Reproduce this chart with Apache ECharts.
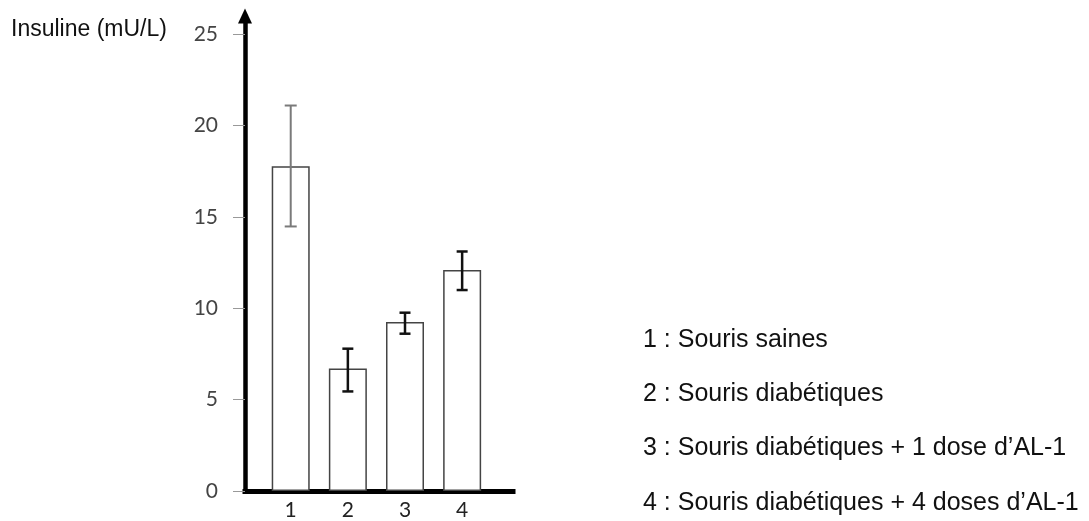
<!DOCTYPE html>
<html>
<head>
<meta charset="utf-8">
<script src="https://cdn.jsdelivr.net/npm/echarts@6/dist/echarts.min.js"></script>
<style>
html,body{margin:0;padding:0;background:#fff;}
#chart{width:1089px;height:521px;}
</style>
</head>
<body>
<div id="chart"></div>
<script>
// ---- data ----
var categories = ['1', '2', '3', '4'];
var means = [17.77, 6.71, 9.25, 12.1];
var errUpper = [21.1, 7.79, 9.76, 13.11];
var errLower = [14.48, 5.45, 8.61, 11.0];
var yTicks = [0, 5, 10, 15, 20, 25];
var yTitle = 'Insuline (mU/L)';
var legendLines = [
  '1 : Souris saines',
  '2 : Souris diabétiques',
  '3 : Souris diabétiques + 1 dose d\u2019AL-1',
  '4 : Souris diabétiques + 4 doses d\u2019AL-1'
];

// ---- build ----
var positions = categories.map(function (c, i) { return i + 1; });
var barData = positions.map(function (p, i) { return [p, means[i]]; });
var errData = positions.map(function (p, i) { return [p, errLower[i], errUpper[i], i]; });

var chart = echarts.init(document.getElementById('chart'), null, {renderer: 'canvas'});
chart.setOption({
  animation: false,
  backgroundColor: '#ffffff',
  title: [
    {
      text: yTitle, left: 11, top: 15, padding: 0,
      textStyle: {fontFamily: 'Liberation Sans', fontSize: 23, fontWeight: 'normal', color: '#111', lineHeight: 30}
    },
    {
      text: legendLines.join('\n'), left: 643, top: 313, padding: 0,
      textStyle: {fontFamily: 'Liberation Sans', fontSize: 25, fontWeight: 'normal', color: '#111', lineHeight: 54.2}
    }
  ],
  grid: {left: 245, top: 16, width: 268, bottom: 29.5, containLabel: false},
  xAxis: {
    type: 'value', min: 0.2, max: 4.89,
    splitLine: {show: false},
    axisLine: {show: true, onZero: false, lineStyle: {color: '#000', width: 5, cap: 'square'}},
    axisTick: {show: false},
    axisLabel: {
      customValues: positions,
      formatter: function (v) { return categories[Math.round(v) - 1] || ''; },
      fontFamily: 'Lato', fontSize: 21, color: '#222', margin: 9
    }
  },
  yAxis: {
    type: 'value', min: 0, max: 26,
    splitLine: {show: false},
    axisLine: {show: true, onZero: false, symbol: ['none', 'triangle'], symbolSize: [14, 15],
      lineStyle: {color: '#000', width: 4.5}},
    axisTick: {show: true, customValues: yTicks, length: 12, lineStyle: {color: '#999', width: 1}},
    axisLabel: {customValues: yTicks, fontFamily: 'Lato', fontSize: 21, color: '#444', margin: 27}
  },
  series: [
    {
      type: 'bar', data: barData, barWidth: 38,
      itemStyle: {color: '#fff', borderColor: '#444', borderWidth: 1.5},
      z: 1
    },
    {
      type: 'custom', data: errData, z: 3,
      renderItem: function (params, api) {
        var x = api.value(0);
        var lo = api.coord([x, api.value(1)]);
        var hi = api.coord([x, api.value(2)]);
        var first = api.value(3) === 0;
        var half = first ? 6 : 5.5;
        var style = {stroke: first ? '#7a7a7a' : '#111', lineWidth: first ? 2 : 2.5};
        return {
          type: 'group',
          children: [
            {type: 'line', shape: {x1: hi[0], y1: hi[1], x2: lo[0], y2: lo[1]}, style: style},
            {type: 'line', shape: {x1: hi[0] - half, y1: hi[1], x2: hi[0] + half, y2: hi[1]}, style: style},
            {type: 'line', shape: {x1: lo[0] - half, y1: lo[1], x2: lo[0] + half, y2: lo[1]}, style: style}
          ]
        };
      }
    }
  ]
});
</script>
</body>
</html>
